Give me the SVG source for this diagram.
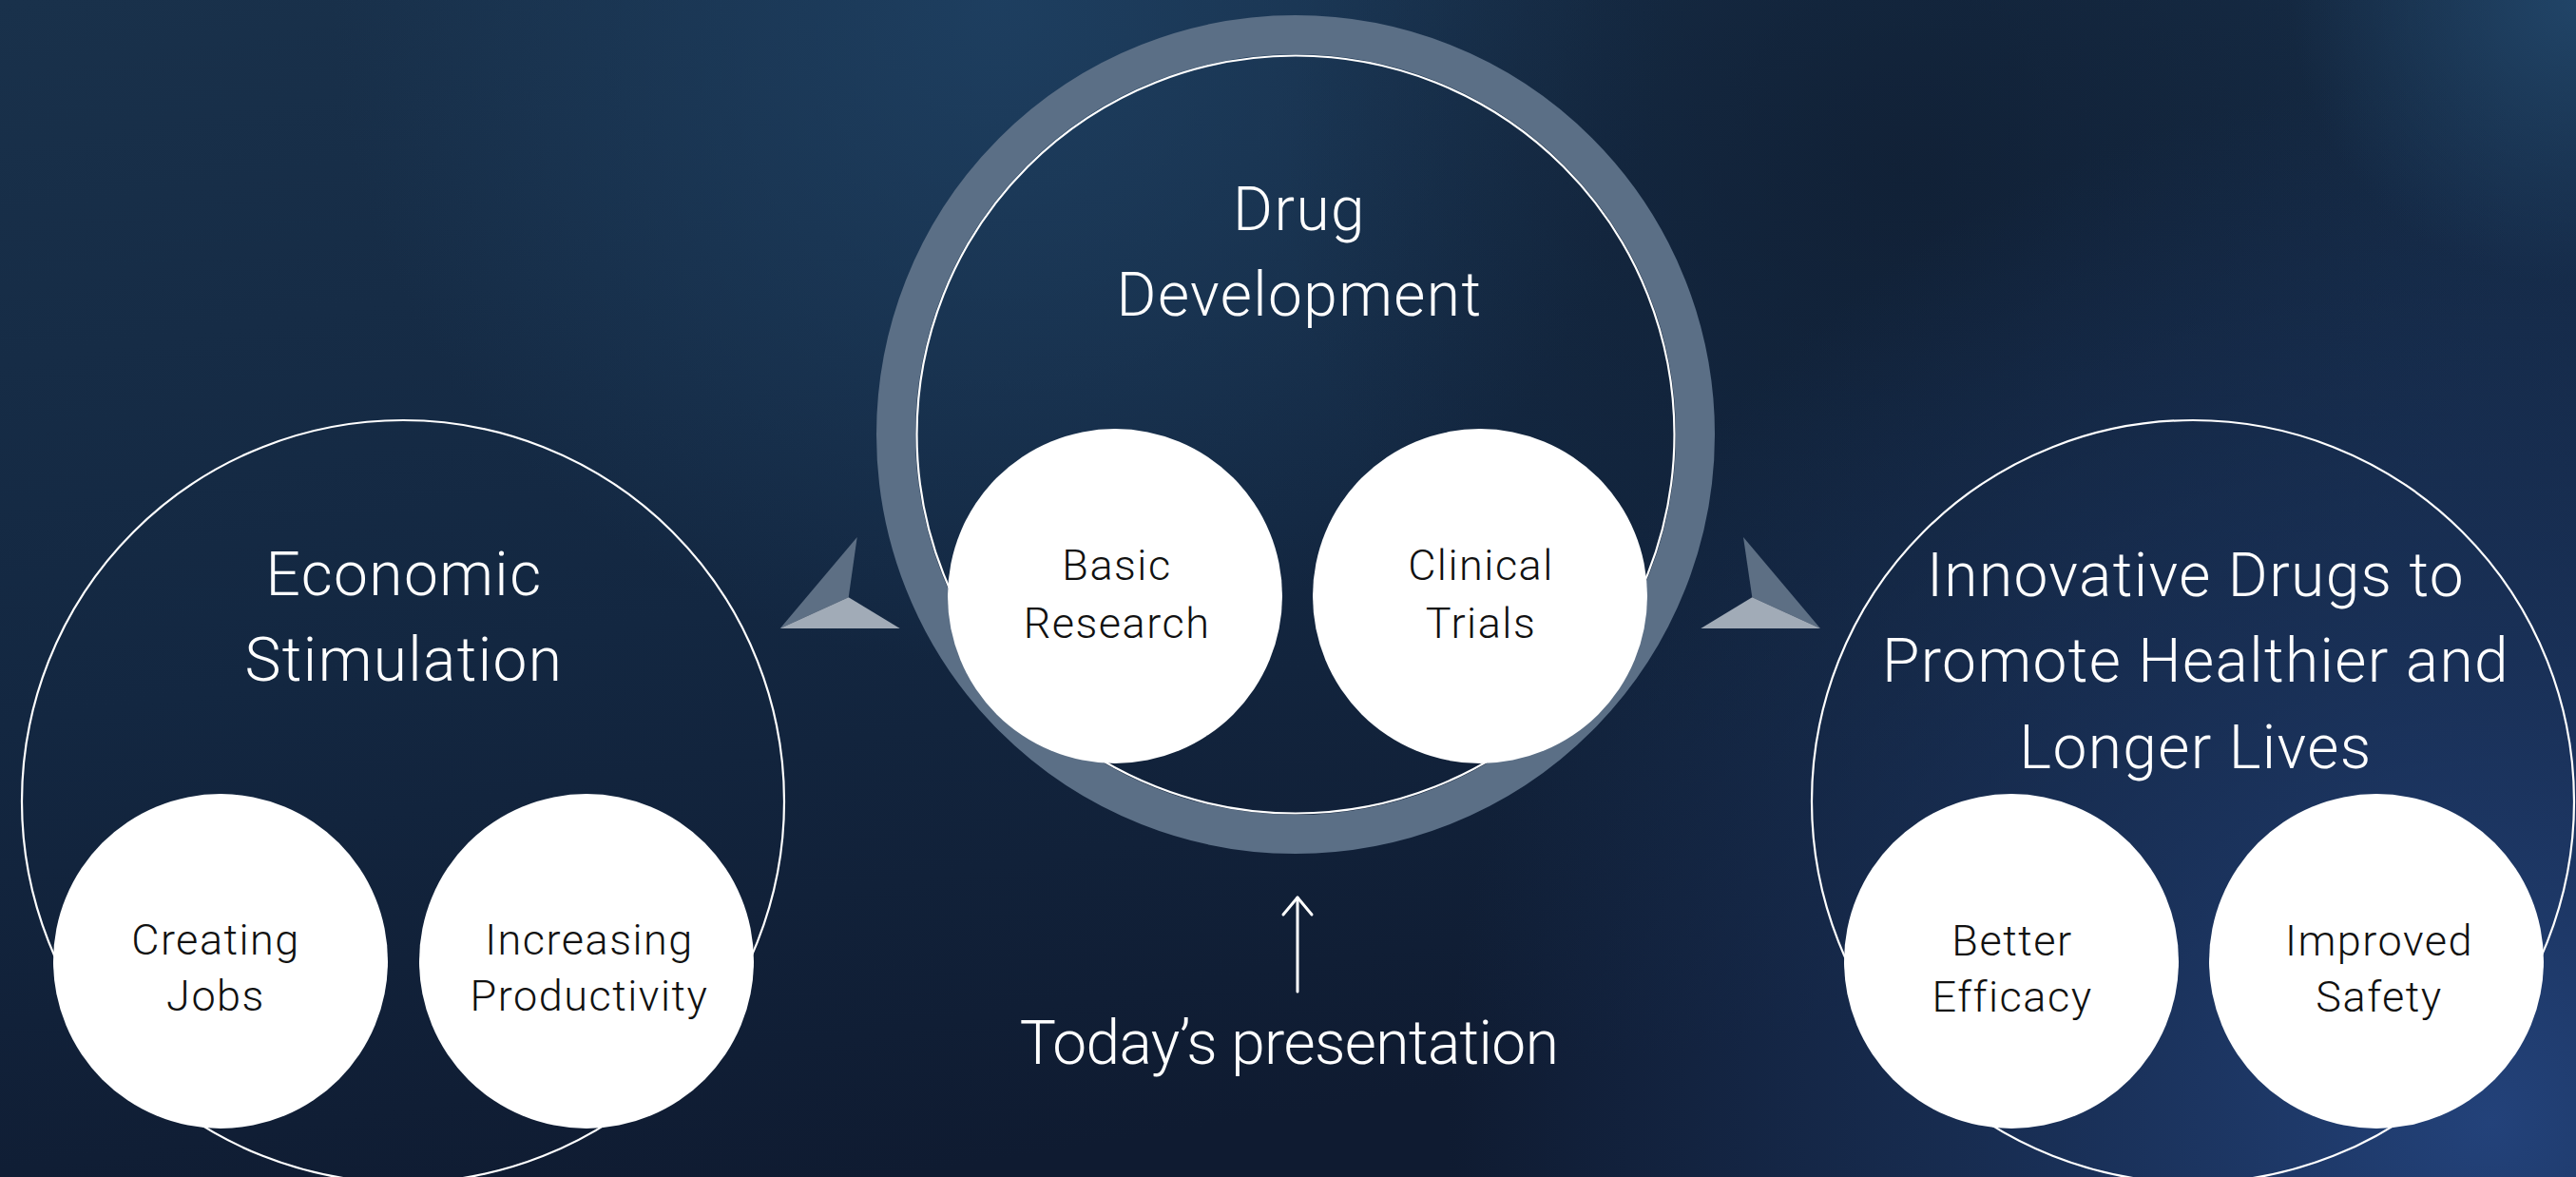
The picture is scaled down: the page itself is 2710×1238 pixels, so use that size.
<svg xmlns="http://www.w3.org/2000/svg" width="2710" height="1238" viewBox="0 0 2710 1238">
  <defs>
    <linearGradient id="bgBase" x1="0" y1="0" x2="0.35" y2="1">
      <stop offset="0" stop-color="#19314b"/>
      <stop offset="0.55" stop-color="#132741"/>
      <stop offset="1" stop-color="#0f1b31"/>
    </linearGradient>
    <radialGradient id="glowBR" cx="2620" cy="1180" r="1100" gradientUnits="userSpaceOnUse">
      <stop offset="0" stop-color="#23427a" stop-opacity="1"/>
      <stop offset="0.5" stop-color="#1d3866" stop-opacity="0.6"/>
      <stop offset="1" stop-color="#1d3866" stop-opacity="0"/>
    </radialGradient>
    <radialGradient id="glowTop" cx="1050" cy="0" r="700" gradientUnits="userSpaceOnUse">
      <stop offset="0" stop-color="#1e4062" stop-opacity="0.9"/>
      <stop offset="1" stop-color="#1e4062" stop-opacity="0"/>
    </radialGradient>
    <radialGradient id="glowTR" cx="2710" cy="0" r="300" gradientUnits="userSpaceOnUse">
      <stop offset="0" stop-color="#22476b" stop-opacity="0.9"/>
      <stop offset="1" stop-color="#22476b" stop-opacity="0"/>
    </radialGradient>
    <radialGradient id="shadeMid" cx="2000" cy="180" r="650" gradientUnits="userSpaceOnUse">
      <stop offset="0" stop-color="#0f1d31" stop-opacity="0.7"/>
      <stop offset="1" stop-color="#0f1d31" stop-opacity="0"/>
    </radialGradient>
    <style>
      .title { font-family: Roboto, "Liberation Sans", sans-serif; font-weight: 300; font-size: 64px; letter-spacing: 1.4px; fill: #ffffff; text-anchor: middle; }
      .caption { letter-spacing: -0.6px; }
      .label { font-family: Roboto, "Liberation Sans", sans-serif; font-weight: 300; font-size: 45px; letter-spacing: 1.5px; fill: #111111; text-anchor: middle; }
      .outline { fill: none; stroke: #ffffff; stroke-width: 2.2; }
      .bubble { fill: #ffffff; }
      .facetDark { fill: #5d6f84; }
      .facetLight { fill: #a1abb7; }
    </style>
  </defs>

  <!-- background -->
  <rect width="2710" height="1238" fill="url(#bgBase)"/>
  <rect width="2710" height="1238" fill="url(#glowTop)"/>
  <rect width="2710" height="1238" fill="url(#shadeMid)"/>
  <rect width="2710" height="1238" fill="url(#glowBR)"/>
  <rect width="2710" height="1238" fill="url(#glowTR)"/>

  <!-- connectors: pointers between the groups and the arrow to the caption -->
  <g id="connectors">
    <g id="pointer-left">
      <polygon class="facetDark" points="901.7,565 892.7,628.3 820.7,661"/>
      <polygon class="facetLight" points="820.7,661 892.7,628.3 946.7,661"/>
    </g>
    <g id="pointer-right">
      <polygon class="facetDark" points="1834,565 1843.3,628.3 1915,661"/>
      <polygon class="facetLight" points="1789.3,661 1843.3,628.3 1915,661"/>
    </g>
    <g id="arrow-up" fill="none" stroke="#ffffff" stroke-width="3" stroke-linecap="round" stroke-linejoin="round">
      <line x1="1365" y1="1043" x2="1365" y2="944"/>
      <polyline points="1350,962 1365,944 1380,962"/>
    </g>
  </g>

  <!-- centre: drug development -->
  <g id="drug-development">
    <circle cx="1363" cy="457" r="420.5" fill="none" stroke="#5b6f86" stroke-width="41"/>
    <circle cx="1363" cy="457" r="398.5" class="outline"/>
    <text class="title" x="1367" y="242">Drug</text>
    <text class="title" x="1367" y="332">Development</text>
  </g>
  <g id="basic-research">
    <circle class="bubble" cx="1173" cy="627" r="176"/>
    <text class="label" x="1175" y="610">Basic</text>
    <text class="label" x="1175" y="671">Research</text>
  </g>
  <g id="clinical-trials">
    <circle class="bubble" cx="1557" cy="627" r="176"/>
    <text class="label" x="1558" y="610">Clinical</text>
    <text class="label" x="1558" y="671">Trials</text>
  </g>

  <!-- left: economic stimulation -->
  <g id="economic-stimulation">
    <circle cx="424" cy="843" r="401" class="outline"/>
    <text class="title" x="425" y="626">Economic</text>
    <text class="title" x="425" y="716">Stimulation</text>
  </g>
  <g id="creating-jobs">
    <circle class="bubble" cx="232" cy="1011" r="176"/>
    <text class="label" x="227" y="1004">Creating</text>
    <text class="label" x="227" y="1063">Jobs</text>
  </g>
  <g id="increasing-productivity">
    <circle class="bubble" cx="617" cy="1011" r="176"/>
    <text class="label" x="620" y="1004">Increasing</text>
    <text class="label" x="620" y="1063">Productivity</text>
  </g>

  <!-- right: healthier and longer lives -->
  <g id="healthier-lives">
    <circle cx="2307" cy="843" r="401" class="outline"/>
    <text class="title" x="2310" y="627">Innovative Drugs to</text>
    <text class="title" x="2310" y="717">Promote Healthier and</text>
    <text class="title" x="2310" y="808">Longer Lives</text>
  </g>
  <g id="better-efficacy">
    <circle class="bubble" cx="2116" cy="1011" r="176"/>
    <text class="label" x="2117" y="1005">Better</text>
    <text class="label" x="2117" y="1064">Efficacy</text>
  </g>
  <g id="improved-safety">
    <circle class="bubble" cx="2500" cy="1011" r="176"/>
    <text class="label" x="2503" y="1005">Improved</text>
    <text class="label" x="2503" y="1064">Safety</text>
  </g>

  <!-- caption -->
  <g id="todays-presentation">
    <text class="title caption" x="1356" y="1119">Today’s presentation</text>
  </g>
</svg>
